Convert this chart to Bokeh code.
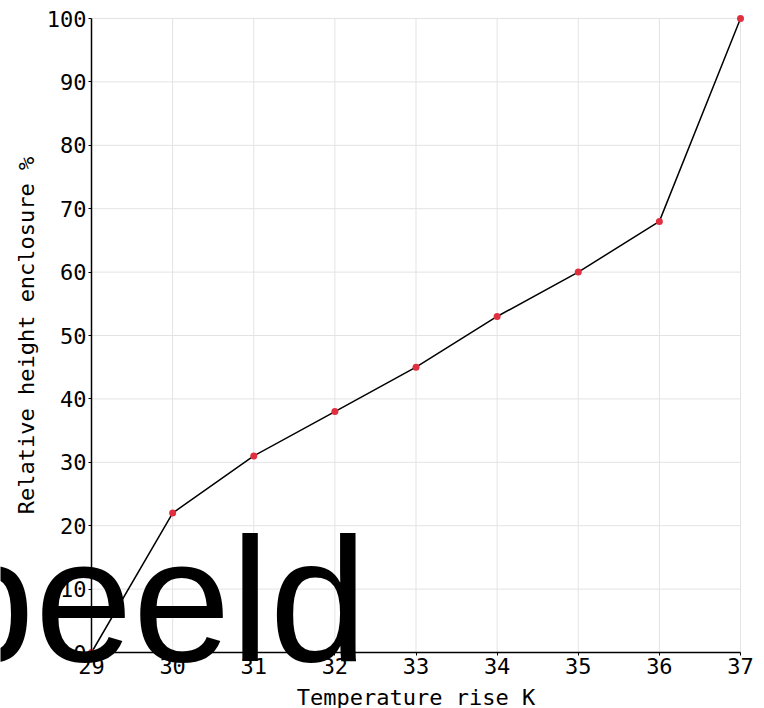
from bokeh.plotting import figure
from bokeh.models import ColumnDataSource, Label, FixedTicker, Range1d
from bokeh.embed import file_html
from bokeh.resources import INLINE

temperature_rise = [29, 30, 31, 32, 33, 34, 35, 36, 37]
relative_height = [0, 22, 31, 38, 45, 53, 60, 68, 100]
x_ticks = [29, 30, 31, 32, 33, 34, 35, 36, 37]
y_ticks = [0, 10, 20, 30, 40, 50, 60, 70, 80, 90, 100]
watermark = "Voorbeeld"

W, H = 764, 708
# plot area in canvas pixels
LEFT, RIGHT, TOP, BOTTOM = 91, 740, 18, 652

x0, x1 = x_ticks[0], x_ticks[-1]
y0, y1 = y_ticks[0], y_ticks[-1]
xs = (RIGHT - LEFT) / (x1 - x0)
ys = (BOTTOM - TOP) / (y1 - y0)

src = ColumnDataSource(data=dict(x=temperature_rise, y=relative_height))

# frame covers the whole canvas so the watermark is not clipped; axes are fixed inside
p = figure(width=W, height=H, output_backend="svg", toolbar_location=None,
           x_range=Range1d(x0 - LEFT / xs, x1 + (W - RIGHT) / xs),
           y_range=Range1d(y0 - (H - BOTTOM) / ys, y1 + TOP / ys),
           min_border=0)
p.outline_line_color = None
p.background_fill_color = "white"
p.grid.visible = False

# grid lines at tick positions, limited to the plot area
p.segment(x0=x_ticks, y0=[y0] * len(x_ticks), x1=x_ticks, y1=[y1] * len(x_ticks),
          line_color="#e3e3e3", line_width=1)
p.segment(x0=[x0] * len(y_ticks), y0=y_ticks, x1=[x1] * len(y_ticks), y1=y_ticks,
          line_color="#e3e3e3", line_width=1)

p.line("x", "y", source=src, line_color="black", line_width=1.5)
p.scatter("x", "y", source=src, size=7, fill_color="#e0303f", line_color=None)

FONT = "DejaVu Sans Mono"
for ax in (p.xaxis[0], p.yaxis[0]):
    ax.axis_line_color = "black"
    ax.axis_line_width = 1.5
    ax.major_tick_in = 0
    ax.major_tick_out = 3
    ax.minor_tick_out = 0
    ax.minor_tick_in = 0
    ax.major_label_text_font = FONT
    ax.major_label_text_font_size = "22px"
    ax.major_label_text_color = "black"
    ax.axis_label_text_font = FONT
    ax.axis_label_text_font_size = "22px"
    ax.axis_label_text_font_style = "normal"
    ax.axis_label_text_color = "black"
    ax.major_label_standoff = 2

p.xaxis.ticker = FixedTicker(ticks=x_ticks)
p.yaxis.ticker = FixedTicker(ticks=y_ticks)
p.xaxis.bounds = (x0, x1)
p.yaxis.bounds = (y0, y1)
p.xaxis.fixed_location = y0
p.yaxis.fixed_location = x0
p.xaxis.axis_label = "Temperature rise K"
p.yaxis.axis_label = "Relative height enclosure %"
p.xaxis.axis_label_standoff = 8
p.yaxis.axis_label_standoff = 5

# watermark: right edge at canvas x=367, glyph baseline at canvas y=660
lbl = Label(x=x0 - LEFT / xs + 367 / xs, y=y0 - (599 - BOTTOM) / ys, text=watermark,
            text_align="right", text_baseline="alphabetic",
            text_font="Liberation Sans", text_font_size="176px", text_color="black")
p.add_layout(lbl)

open("out.html", "w").write(file_html(p, INLINE))
